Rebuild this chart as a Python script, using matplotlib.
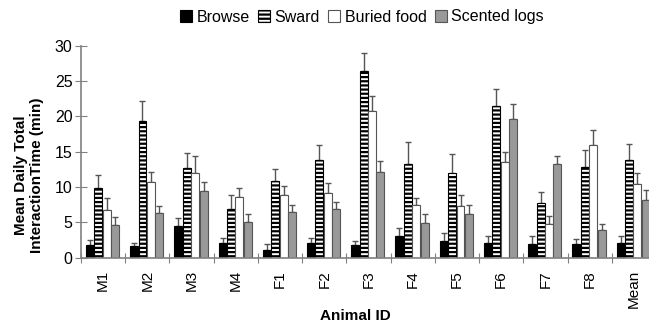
import matplotlib
matplotlib.use("Agg")
import matplotlib.pyplot as plt
import numpy as np

plt.rcParams["font.family"] = ["Liberation Sans", "DejaVu Sans"]
plt.rcParams["hatch.linewidth"] = 1.6

animals = ["M1", "M2", "M3", "M4", "F1", "F2", "F3", "F4", "F5", "F6", "F7", "F8", "Mean"]
series = ["Browse", "Sward", "Buried food", "Scented logs"]

# mean daily interaction time (min) and upper error (SE)
browse = [1.7, 1.6, 4.5, 2.0, 1.1, 2.0, 1.7, 3.0, 2.3, 2.0, 1.9, 1.9, 2.0]
browse_err = [0.75, 0.5, 1.1, 0.7, 0.8, 0.7, 0.7, 1.2, 1.2, 1.1, 1.1, 0.7, 1.1]
sward = [9.8, 19.4, 12.7, 6.9, 10.9, 13.8, 26.4, 13.3, 11.9, 21.4, 7.7, 12.8, 13.8]
sward_err = [1.9, 2.8, 2.1, 2.0, 1.7, 2.2, 2.6, 3.0, 2.8, 2.4, 1.6, 2.4, 2.3]
buried = [6.7, 10.7, 12.0, 8.5, 8.8, 9.2, 20.7, 7.4, 7.3, 13.5, 4.8, 16.0, 10.4]
buried_err = [1.7, 1.4, 2.4, 1.4, 1.3, 1.3, 2.2, 1.0, 1.6, 1.5, 1.1, 2.1, 1.6]
scented = [4.6, 6.3, 9.4, 5.0, 6.5, 6.8, 12.1, 4.9, 6.1, 19.6, 13.2, 3.9, 8.2]
scented_err = [1.1, 1.0, 1.3, 1.1, 1.0, 1.0, 1.5, 1.2, 1.3, 2.1, 1.2, 0.9, 1.3]

values = [browse, sward, buried, scented]
errors = [browse_err, sward_err, buried_err, scented_err]
styles = [
    dict(facecolor="black", edgecolor="black", hatch=None),
    dict(facecolor="white", edgecolor="black", hatch="----"),
    dict(facecolor="white", edgecolor="#555555", hatch=None),
    dict(facecolor="#999999", edgecolor="#555555", hatch=None),
]

fig = plt.figure(figsize=(6.49, 3.25), dpi=100)
# axes runs a little past the right edge, as in the cropped original
ax = fig.add_axes([81 / 649, (325 - 257.5) / 325, 575 / 649, 211.8 / 325])

x = np.arange(len(animals))
width = 0.18
pitch = 0.19
for i, (vals, errs, st) in enumerate(zip(values, errors, styles)):
    pos = x + 0.2 + pitch * i
    ax.bar(pos, vals, width, label=series[i], linewidth=0.8, zorder=2, **st)
    ax.errorbar(pos, vals, yerr=[np.zeros(len(errs)), errs], fmt="none",
                ecolor="#555555", elinewidth=1.0, capsize=2.2, capthick=1.0, zorder=1)

ax.set_xlim(0, len(animals))
ax.set_ylim(0, 30)
ax.set_yticks(range(0, 31, 5))
ax.set_xticks(x, minor=False)
ax.set_xticklabels([])
ax.set_xticks(x + 0.5, minor=True)
ax.set_xticklabels(animals, minor=True, rotation=90, fontsize=11)
ax.tick_params(axis="x", which="minor", length=0, pad=9)
ax.tick_params(axis="x", which="major", direction="inout", length=7, color="#808080")
ax.tick_params(axis="y", direction="inout", length=8, color="#808080", labelsize=11.5, pad=2)

for s in ["top", "right"]:
    ax.spines[s].set_visible(False)
for s in ["left", "bottom"]:
    ax.spines[s].set_color("#808080")
    ax.spines[s].set_linewidth(1.2)

fig.text(355 / 649, 9 / 325, "Animal ID", ha="center", va="center",
         fontsize=11, fontweight="bold")
fig.text(29 / 649, 150 / 325, "Mean Daily Total\nInteractionTime (min)", ha="center",
         va="center", rotation=90, fontsize=11, fontweight="bold", linespacing=1.25)

fig.legend(loc="center", bbox_to_anchor=(362 / 649, 1 - 17 / 325), ncol=4, frameon=False,
           fontsize=11.5, handlelength=0.75, handleheight=0.75, handletextpad=0.3,
           columnspacing=0.5, borderaxespad=0)

fig.savefig("out.png", dpi=100)
